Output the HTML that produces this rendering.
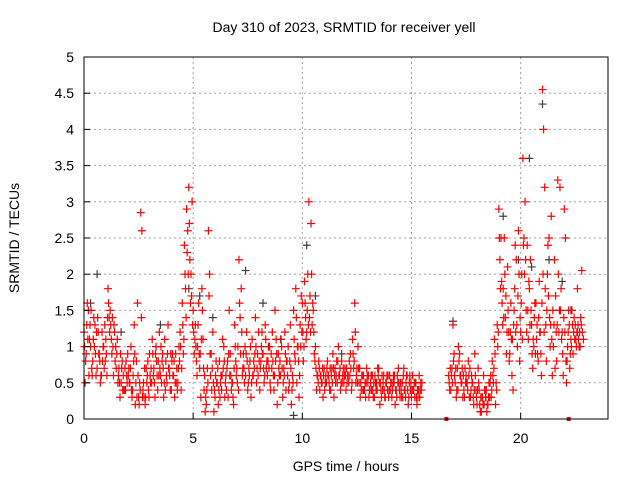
<!DOCTYPE html>
<html><head><meta charset="utf-8">
<style>
body{margin:0;background:#fff;}
svg{display:block;font-family:"Liberation Sans",sans-serif;}
</style></head>
<body>
<svg id="chart" width="640" height="480">
<text x="344" y="32" text-anchor="middle" font-size="14">Day 310 of 2023, SRMTID for receiver yell</text>
<text x="346" y="471" text-anchor="middle" font-size="14">GPS time / hours</text>
<text transform="translate(19,238) rotate(-90)" text-anchor="middle" font-size="14">SRMTID / TECUs</text>
<g id="grid"></g><g id="marks"></g><g id="axes"></g>
</svg>
<script>
const xTicks=[0,5,10,15,20];
const yTicks=[0,0.5,1,1.5,2,2.5,3,3.5,4,4.5,5];
const yTickLabels=["0","0.5","1","1.5","2","2.5","3","3.5","4","4.5","5"];
const redAStart=0.0;
const redAValues=[1.2,0.9,1.5,1.0,0.8,1.3,0.7,0.9,0.6,1.0,1.1,
1.8,1.5,1.4,1.2,0.9,0.7,0.5,0.6,0.4,0.9,
0.5,0.3,1.3,0.8,0.3,2.85,0.4,0.2,0.6,0.9,
0.5,0.7,1.0,0.8,0.6,0.9,1.1,0.5,0.7,0.4,
0.6,0.9,0.5,1.2,1.6,2.4,2.9,3.2,2.0,1.5,
1.3,1.0,0.7,1.8,0.4,0.2,2.6,0.6,1.2,0.3,
0.5,0.8,0.4,1.0,0.6,0.3,0.9,0.5,1.3,0.7,
2.2,1.8,0.9,0.6,0.4,0.8,1.1,0.7,0.5,1.2,
0.8,0.9,1.3,0.6,1.0,0.7,0.4,1.1,0.9,0.6,
0.3,1.2,0.8,0.5,0.2,1.5,1.8,1.0,1.3,1.6,
1.9,1.2,3.0,2.7,1.5,1.0,0.6,0.4,0.5,0.7,
0.5,0.6,0.4,0.9,0.7,0.5,0.6,0.8,0.5,0.4,
0.6,0.9,1.1,1.6,0.7,0.5,0.4,0.6,0.3,0.5,
0.4,0.6,0.3,0.5,0.7,0.4,0.5,0.3,0.4,0.6,
0.3,0.5,0.4,0.7,0.5,0.3,0.4,0.6,0.5,0.3,
0.4,0.5,0.3,0.4];
const redBStart=0.05;
const redBValues=[0.5,1.6,1.1,0.7,1.4,0.6,1.2,0.5,0.8,1.3,0.6,
1.4,1.1,0.6,1.0,0.5,0.3,0.8,0.4,0.6,0.7,
1.0,0.6,0.2,1.6,0.5,2.6,0.3,0.7,0.4,0.5,
0.9,0.3,0.6,1.2,0.5,0.3,0.8,1.3,0.4,0.9,
0.3,0.7,1.0,0.4,0.9,1.8,2.6,2.2,3.0,0.9,
0.8,1.6,0.3,1.1,0.1,0.7,2.0,0.4,0.1,0.8,
0.2,0.5,1.1,0.3,0.7,1.5,0.4,0.2,0.8,1.0,
1.4,0.6,0.5,1.2,0.7,0.3,0.6,1.4,0.9,0.4,
1.2,0.5,0.7,1.0,0.4,0.8,1.5,0.2,0.6,1.0,
0.7,0.4,1.0,1.3,0.6,0.9,0.5,0.3,1.7,0.8,
1.4,2.0,1.7,1.3,0.9,0.4,0.8,0.6,0.3,0.5,
0.8,0.4,0.7,0.3,0.6,1.0,0.4,0.6,0.7,0.5,
0.8,0.4,0.7,0.5,1.0,0.3,0.6,0.4,0.7,0.3,
0.6,0.3,0.5,0.7,0.2,0.6,0.4,0.5,0.3,0.5,
0.5,0.2,0.6,0.4,0.3,0.7,0.5,0.2,0.4,0.6,
0.3,0.2,0.6,0.4];
const redEStart=0.025;
const redEValues=[1.0,1.3,0.6,1.5,1.1,0.9,1.4,0.8,1.2,0.7,0.9,
1.6,1.3,1.0,0.8,1.1,0.5,0.7,0.4,0.8,0.6,
0.7,0.4,0.9,0.3,0.2,1.4,0.5,0.3,0.8,0.6,
1.1,0.5,0.8,0.6,1.0,0.7,0.4,0.9,0.6,0.8,
0.8,0.5,0.7,1.0,1.3,2.0,2.3,2.7,1.7,1.2,
1.0,1.3,0.9,1.5,0.6,0.4,1.7,0.9,0.5,0.6,
0.7,0.3,0.6,0.8,0.4,0.9,0.6,0.3,1.0,0.5,
1.6,1.2,0.7,0.9,0.5,1.0,0.6,0.9,0.7,0.8,
1.0,0.7,1.1,0.8,0.5,1.2,0.6,0.9,0.7,1.1,
0.5,0.9,0.6,0.8,0.4,1.1,1.4,0.8,1.0,1.2,
1.6,1.5,1.4,2.0,1.2,0.7,0.5,0.6,0.7,0.4,
0.7,0.5,0.6,0.7,0.5,0.8,0.7,0.5,0.6,0.7,
0.5,0.7,0.9,1.2,0.5,0.7,0.6,0.4,0.5,0.6,
0.5,0.4,0.6,0.4,0.5,0.3,0.6,0.5,0.6,0.4,
0.4,0.6,0.3,0.5,0.4,0.6,0.3,0.4,0.6,0.4,
0.5,0.3,0.4,0.5];
const redFStart=0.075;
const redFValues=[0.8,1.1,1.3,0.6,1.0,1.2,0.9,0.6,1.0,0.8,1.4,
1.2,0.9,1.3,0.7,0.6,0.9,0.4,0.7,0.5,0.5,
0.4,0.8,0.5,0.6,0.4,0.3,0.7,0.5,0.3,0.7,
0.6,0.9,0.4,0.7,0.8,0.5,0.6,0.7,0.9,0.6,
0.5,0.4,0.8,0.7,1.1,1.4,2.0,1.6,1.3,1.1,
0.6,0.9,1.1,0.7,0.3,0.5,0.9,0.7,0.4,0.5,
0.4,0.6,0.7,0.5,0.8,0.6,0.5,0.7,0.6,0.4,
0.9,0.7,1.0,0.8,0.6,0.5,0.8,1.0,0.6,0.7,
0.9,0.6,0.8,0.7,0.9,0.6,0.8,0.5,0.8,0.7,
0.6,0.8,0.4,0.7,0.5,0.8,1.0,0.6,1.2,1.0,
1.1,1.3,1.2,1.6,0.8,0.6,0.7,0.5,0.6,0.6,
0.6,0.7,0.5,0.6,0.8,0.6,0.5,0.7,0.6,0.6,
0.6,0.5,0.8,0.6,0.7,0.5,0.4,0.5,0.6,0.4,
0.4,0.5,0.4,0.6,0.5,0.4,0.3,0.6,0.4,0.5,
0.6,0.4,0.5,0.3,0.5,0.4,0.6,0.3,0.5,0.4,
0.5,0.4,0.3,0.5];
const redCStart=16.7;
const redCValues=[0.6,0.4,1.3,0.5,0.7,0.9,0.5,0.4,0.6,0.8,
0.3,0.5,0.9,0.2,0.4,0.1,0.6,0.3,0.2,0.5,
0.8,1.1,0.4,2.9,2.5,1.8,1.4,2.1,0.9,0.6,
1.5,2.2,2.6,1.2,3.6,3.0,2.4,1.8,1.3,1.0,
1.6,0.8,1.2,4.55,3.2,1.5,2.5,2.8,1.0,1.7,
3.3,3.2,1.2,2.9,0.5,1.5,1.1,0.9,1.3,1.8,
1.2,2.05];
const redDStart=16.75;
const redDValues=[0.4,0.7,0.9,0.3,1.0,0.6,0.3,0.7,0.5,0.3,
0.6,0.2,0.4,0.7,0.1,0.3,0.4,0.1,0.5,0.3,
0.5,0.2,1.0,2.2,1.6,2.5,0.9,1.2,1.6,0.4,
2.4,1.0,0.8,2.0,2.5,1.5,1.1,2.2,0.7,1.6,
1.3,1.9,0.6,4.0,1.3,2.4,1.0,0.6,2.2,0.8,
1.2,1.8,0.6,2.5,1.0,0.7,1.5,1.4,1.0,1.1,
1.4];
const redGStart=16.725;
const redGValues=[0.5,0.6,0.8,0.7,0.4,0.6,0.7,0.3,0.5,0.6,
0.4,0.3,0.6,0.4,0.2,0.3,0.2,0.4,0.3,0.6,
0.6,0.9,1.3,2.5,1.9,1.4,1.7,1.5,1.2,1.1,
1.8,1.3,2.0,1.6,2.4,2.2,1.5,1.3,0.9,1.4,
1.1,1.4,0.9,2.0,1.8,2.0,1.4,1.1,1.3,1.2,
2.0,1.5,0.9,1.2,0.8,1.3,1.0,1.2,1.1,1.3,
1.0,1.2];
const redHStart=16.775;
const redHValues=[0.7,0.5,0.6,0.4,0.8,0.5,0.6,0.5,0.4,0.7,
0.5,0.4,0.3,0.5,0.3,0.2,0.4,0.2,0.3,0.4,
0.7,0.5,1.2,1.8,1.3,2.0,1.2,0.8,1.1,1.3,
1.2,1.7,1.4,1.1,2.0,1.2,1.9,1.5,1.1,0.9,
0.9,1.2,1.6,1.2,0.8,1.7,1.3,1.5,0.7,1.3,
1.5,1.1,1.4,0.8,1.2,0.9,1.3,1.1,1.2,1.0,
1.3,1.1];
const darkTimes=[0.3,0.6,1.7,3.5,4.8,5.3,5.9,7.4,8.2,9.0,9.6,10.2,10.6,11.8,13.2,16.9,18.4,19.2,19.9,20.4,20.5,21.0,21.3,21.9,22.3,22.6];
const darkValues=[1.6,2.0,1.2,1.3,1.8,1.7,1.4,2.05,1.6,1.1,0.05,2.4,1.7,0.9,0.6,1.35,0.3,2.8,2.2,3.6,2.1,4.35,2.2,1.9,1.5,1.2];
const zeroTimes=[16.6,22.2];

const X0=84,X1=608,Y0=419,Y1=57;
function xs(t){return X0+(t/24)*(X1-X0);}
function ys(v){return Y0-(v/5)*(Y0-Y1);}
const NS="http://www.w3.org/2000/svg";
function mk(tag,attrs,parent){const e=document.createElementNS(NS,tag);for(const k in attrs)e.setAttribute(k,attrs[k]);parent.appendChild(e);return e;}
const grid=document.getElementById('grid'),marks=document.getElementById('marks'),axes=document.getElementById('axes');
xTicks.forEach((t,i)=>{
  if(t>0){const g=mk('line',{x1:xs(t),x2:xs(t),y1:Y1,y2:Y0,stroke:'#a0a0a0','stroke-dasharray':'2,3'},grid);
  
  }
  const tk=mk('line',{x1:xs(t),x2:xs(t),y1:Y0,y2:Y0-6,stroke:'#000'},axes);
  
  
  const l=mk('text',{x:xs(t),y:Y0+24,'text-anchor':'middle','font-size':14},axes);
  l.textContent=String(t);
  
  
});
yTicks.forEach((v,i)=>{
  if(v>0&&v<5){const g=mk('line',{x1:X0,x2:X1,y1:ys(v),y2:ys(v),stroke:'#a0a0a0','stroke-dasharray':'2,3'},grid);
  
  }
  const tk=mk('line',{x1:X0,x2:X0+6,y1:ys(v),y2:ys(v),stroke:'#000'},axes);
  
  
  const l=mk('text',{x:X0-10,y:ys(v)+5,'text-anchor':'end','font-size':14},axes);
  l.textContent=yTickLabels[i];
  
  
});
const frame=mk('rect',{x:X0,y:Y1,width:X1-X0,height:Y0-Y1,fill:'none',stroke:'#000'},axes);


function plus(t,v,color,name){
  const x=xs(t),y=ys(v);
  const p=mk('path',{d:`M${x-4},${y}h8M${x},${y-4}v8`,stroke:color,'stroke-width':1.2,fill:'none'},marks);
  
  
}
darkTimes.forEach((t,i)=>plus(t,darkValues[i],'#404040','dark-point'));
[[redAStart,redAValues],[redBStart,redBValues],[redEStart,redEValues],[redFStart,redFValues],
 [redCStart,redCValues],[redDStart,redDValues],[redGStart,redGValues],[redHStart,redHValues]].forEach(([s,vals])=>{
  vals.forEach((v,i)=>plus(s+i*0.1,v,'#ff0000','red-point'));
});
zeroTimes.forEach(t=>{
  const r=mk('rect',{x:xs(t)-2,y:Y0-2,width:4,height:4,fill:'#ff0000'},marks);
  
  
});
</script>
</body></html>
